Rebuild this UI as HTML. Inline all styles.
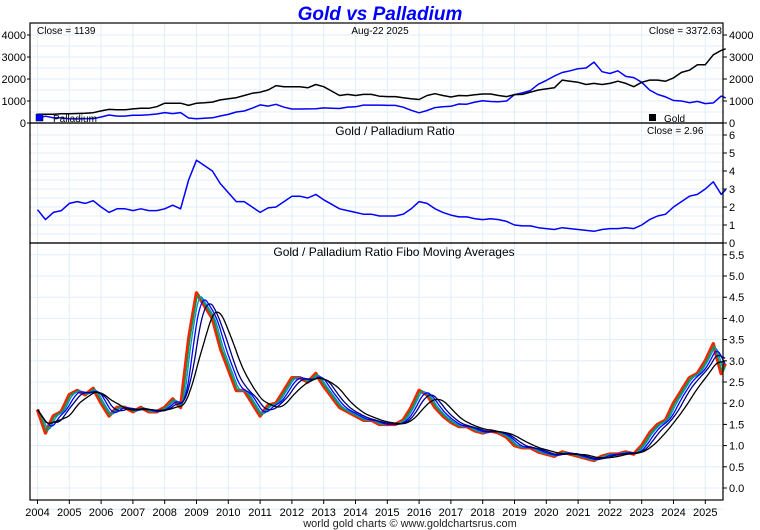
<!DOCTYPE html>
<html><head><meta charset="utf-8"><style>
html,body{margin:0;padding:0;background:#fff}
svg{display:block;font-family:"Liberation Sans",sans-serif}
</style></head><body>
<svg id="c" width="760" height="530" viewBox="0 0 760 530"></svg>
<script>
const ratio=[1.85,1.3,1.7,1.8, 2.2,2.3,2.2,2.35, 2.0,1.7,1.9,1.9, 1.8,1.9,1.8,1.8, 1.9,2.1,1.9,3.5, 4.6,4.3,4.0,3.3, 2.8,2.3,2.3,2.0, 1.7,1.95,2.0,2.3, 2.6,2.6,2.5,2.7, 2.4,2.15,1.9,1.8, 1.7,1.6,1.6,1.5, 1.5,1.5,1.6,1.9, 2.3,2.2,1.9,1.7, 1.55,1.45,1.45,1.35, 1.3,1.35,1.3,1.2, 1.0,0.95,0.95,0.85, 0.8,0.75,0.85,0.8, 0.75,0.7,0.65,0.75, 0.8,0.8,0.85,0.8, 1.0,1.3,1.5,1.6, 2.0,2.3,2.6,2.7, 3.0,3.4,2.7,2.96];
const gold=[400,400,400,420, 425,430,440,470, 550,620,600,600, 640,670,670,740, 900,900,900,800, 900,920,950,1050, 1100,1150,1250,1350, 1400,1500,1700,1650, 1650,1650,1600,1750, 1650,1450,1250,1300, 1250,1300,1300,1220, 1200,1200,1150,1100, 1070,1250,1330,1250, 1180,1250,1240,1280, 1320,1320,1250,1200, 1290,1300,1400,1500, 1550,1600,1950,1900, 1850,1750,1800,1750, 1800,1900,1800,1650, 1850,1950,1950,1900, 2050,2300,2400,2650, 2650,3100,3300,3372];
const years=[2004,2005,2006,2007,2008,2009,2010,2011,2012,2013,2014,2015,2016,2017,2018,2019,2020,2021,2022,2023,2024,2025];
const priceTicks=[0,1000,2000,3000,4000];
const ratioTicks=[0,1,2,3,4,5,6];
const maTicks=[0.0,0.5,1.0,1.5,2.0,2.5,3.0,3.5,4.0,4.5,5.0,5.5];
const maWindows=[0.1,0.2,0.35,0.55,0.9];
const maColors=["#00a040","#0090c0","#0000ff","#000080","#000000"];
const dates=ratio.map((_,i)=>i<ratio.length-1?2004+i*0.25:2025.64);
const pall=gold.map((g,i)=>g/ratio[i]);

const L=30,R=723;
const X=d=>37.5+(d-2004)*31.8;
const Y1=v=>123-v*0.022, Y2=v=>243-v*18, Y3=v=>488-v*42.4;
const S=document.getElementById('c');
const NS='http://www.w3.org/2000/svg';
function el(t,a,p){const e=document.createElementNS(NS,t);for(const k in a)e.setAttribute(k,a[k]);(p||S).appendChild(e);return e;}
function txt(x,y,s,o){const e=el('text',Object.assign({x:x,y:y,'font-size':11,fill:'#000'},o||{}));e.textContent=s;return e;}

const g=el('g',{});


years.forEach(yr=>el('line',{x1:X(yr),x2:X(yr),y1:23,y2:500,stroke:'#e0eef8','stroke-width':1},g));
for(let v=0;v<=4000;v+=500)el('line',{x1:L,x2:R,y1:Y1(v),y2:Y1(v),stroke:'#e0eef8'},g);
for(let v=0;v<=6;v+=0.5)el('line',{x1:L,x2:R,y1:Y2(v),y2:Y2(v),stroke:'#e0eef8'},g);
for(let v=-0.5;v<=5.5;v+=0.5)el('line',{x1:L,x2:R,y1:Y3(v),y2:Y3(v),stroke:'#e0eef8'},g);

function line(xs,ys,fy,col,w,name){
  const d=xs.map((x,i)=>(i?'L':'M')+X(x).toFixed(1)+','+fy(ys[i]).toFixed(1)).join('');
  const p=el('path',{d:d,fill:'none',stroke:col,'stroke-width':w,'stroke-linejoin':'round'});
  
  
  return p;
}
line(dates,pall,Y1,'#0000ff',1.5,'palladium-line');
line(dates,gold,Y1,'#000',1.5,'gold-line');
line(dates,ratio,Y2,'#0000ff',1.5,'ratio-line');

const step=1/40,rs=[],rd=[];
for(let t=dates[0];t<=dates[dates.length-1]+1e-9;t+=step){
  let i=0;while(i<dates.length-2&&dates[i+1]<t)i++;
  const f=Math.min(1,Math.max(0,(t-dates[i])/(dates[i+1]-dates[i])));
  rd.push(t);rs.push(ratio[i]+(ratio[i+1]-ratio[i])*f);
}
line(rd,rs,Y3,'#ff2000',3.5,'ratio-raw-line');
maWindows.forEach((w,k)=>{
  const n=Math.max(1,Math.round(w/step)),out=[];
  for(let i=0;i<rs.length;i++){let s=0,c=0;for(let j=Math.max(0,i-n+1);j<=i;j++){s+=rs[j];c++;}out.push(s/c);}
  line(rd,out,Y3,maColors[k],1.3,'fibo-ma-'+(k+1));
});

[[23,123],[123,243],[243,500]].forEach((p,i)=>{const r=el('rect',{x:L,y:p[0],width:R-L,height:p[1]-p[0],fill:'none',stroke:'#000','stroke-width':1.2});
});

priceTicks.forEach(v=>{txt(26,Y1(v)+4,String(v),{'text-anchor':'end'});el('line',{x1:27,x2:L,y1:Y1(v),y2:Y1(v),stroke:'#000'});
  txt(729,Y1(v)+4,String(v));el('line',{x1:R,x2:R+4,y1:Y1(v),y2:Y1(v),stroke:'#000'});});
ratioTicks.forEach(v=>{txt(729,Y2(v)+4,String(v));el('line',{x1:R,x2:R+4,y1:Y2(v),y2:Y2(v),stroke:'#000'});});
maTicks.forEach(v=>{txt(729,Y3(v)+4,v.toFixed(1));el('line',{x1:R,x2:R+4,y1:Y3(v),y2:Y3(v),stroke:'#000'});});
years.forEach(yr=>{txt(X(yr),516,String(yr),{'text-anchor':'middle'});el('line',{x1:X(yr),x2:X(yr),y1:500,y2:504,stroke:'#000'});});

const t=txt(380,20,'Gold vs Palladium',{'text-anchor':'middle','font-size':19,'font-weight':'bold','font-style':'italic',fill:'#0000ff'});

txt(37,34,'Close = 1139',{'font-size':10});
txt(380,34,'Aug-22  2025',{'font-size':10,'text-anchor':'middle'});
txt(722,34,'Close = 3372.63',{'font-size':10,'text-anchor':'end'});
txt(647,134,'Close = 2.96',{'font-size':10});
txt(395,135,'Gold / Palladium Ratio',{'font-size':12,'text-anchor':'middle'});
txt(394,256,'Gold / Palladium Ratio Fibo Moving Averages',{'font-size':12,'text-anchor':'middle'});
el('rect',{x:36,y:114,width:7,height:7,fill:'#0000ff',stroke:'#000','stroke-width':0.5});
txt(53,122,'Palladium',{'font-size':10});
el('rect',{x:649,y:114,width:7,height:7,fill:'#000'});
txt(664,122,'Gold',{'font-size':10});
txt(410,527,'world gold charts © www.goldchartsrus.com',{'font-size':11,'text-anchor':'middle',fill:'#222'});
</script>
</body></html>
